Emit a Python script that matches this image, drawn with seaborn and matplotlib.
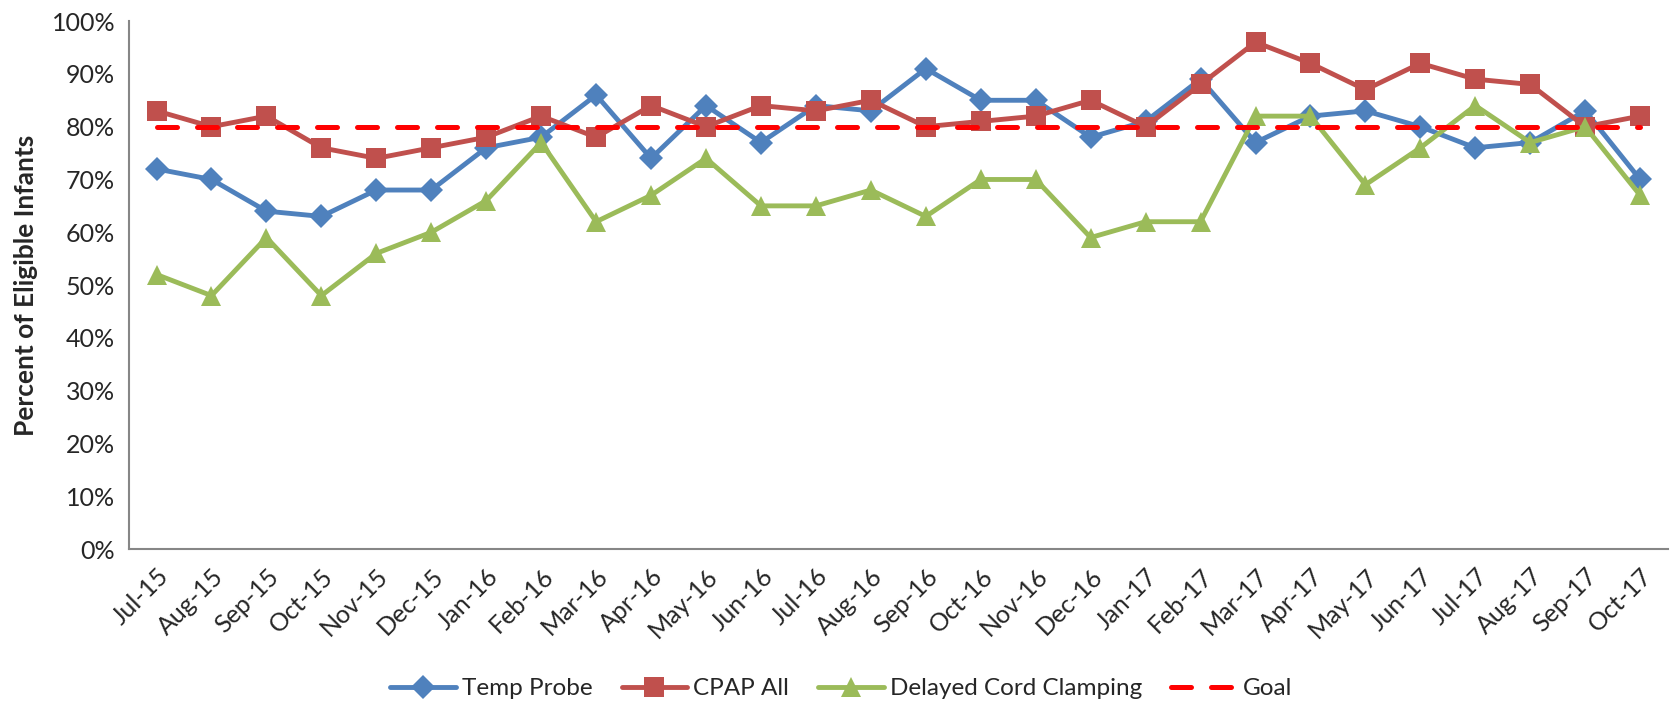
import matplotlib
matplotlib.use("Agg")
import matplotlib.pyplot as plt
import seaborn as sns
import pandas as pd
import numpy as np
from matplotlib.ticker import PercentFormatter, FixedLocator

months = ["Jul-15", "Aug-15", "Sep-15", "Oct-15", "Nov-15", "Dec-15", "Jan-16", "Feb-16",
          "Mar-16", "Apr-16", "May-16", "Jun-16", "Jul-16", "Aug-16", "Sep-16", "Oct-16",
          "Nov-16", "Dec-16", "Jan-17", "Feb-17", "Mar-17", "Apr-17", "May-17", "Jun-17",
          "Jul-17", "Aug-17", "Sep-17", "Oct-17"]
temp_probe = [72, 70, 64, 63, 68, 68, 76, 78, 86, 74, 84, 77, 84, 83, 91, 85, 85, 78, 81, 89,
              77, 82, 83, 80, 76, 77, 83, 70]
cpap_all = [83, 80, 82, 76, 74, 76, 78, 82, 78, 84, 80, 84, 83, 85, 80, 81, 82, 85, 80, 88,
            96, 92, 87, 92, 89, 88, 80, 82]
delayed_cord = [52, 48, 59, 48, 56, 60, 66, 77, 62, 67, 74, 65, 65, 68, 63, 70, 70, 59, 62, 62,
                82, 82, 69, 76, 84, 77, 80, 67]
goal = [80] * len(months)

sns.set_theme(style="white")
plt.rcParams["font.family"] = ["Lato", "DejaVu Sans"]

fig = plt.figure(figsize=(16.76, 7.03), dpi=100)
ax = fig.add_axes([0.077, 0.219, 0.918, 0.751])

idx = np.arange(len(months))
series = [
    ("Temp Probe", temp_probe, "#4F81BD", "D", 12, "-"),
    ("CPAP All", cpap_all, "#C0504D", "s", 14, "-"),
    ("Delayed Cord Clamping", delayed_cord, "#9BBB59", "^", 15, "-"),
]
for name, vals, col, mk, ms, ls in series:
    df = pd.DataFrame({"x": idx, "y": vals})
    sns.lineplot(data=df, x="x", y="y", ax=ax, color=col, linewidth=3.5,
                 marker=mk, markersize=ms, markeredgewidth=0, label=name)
dfg = pd.DataFrame({"x": idx, "y": goal})
sns.lineplot(data=dfg, x="x", y="y", ax=ax, color="#FF0000", linewidth=3.6, label="Goal")
ax.lines[-1].set_dashes([4.0, 4.0])
ax.lines[-1].set_dash_capstyle("round")

ax.set_xlim(-0.5, len(months) - 0.5)
ax.set_ylim(0, 100)
ax.yaxis.set_major_locator(FixedLocator(np.arange(0, 101, 10)))
ax.yaxis.set_major_formatter(PercentFormatter(decimals=0))
ax.set_xticks(idx)
ax.set_xticklabels(months, rotation=45, ha="right", rotation_mode="anchor", fontsize=18)
ax.set_xticks(np.arange(-0.5, len(months), 1.0), minor=True)
ax.tick_params(axis="x", which="major", length=0, pad=11)
ax.tick_params(axis="x", which="minor", length=7, width=1.2, color="#868686", direction="out")
ax.tick_params(axis="y", which="major", length=6, width=1.2, color="#868686", direction="out",
               labelsize=18, pad=4)
ax.set_xlabel("")
ax.set_ylabel("Percent of Eligible Infants", fontsize=19, fontweight="bold", labelpad=10)
for s in ["top", "right"]:
    ax.spines[s].set_visible(False)
for s in ["left", "bottom"]:
    ax.spines[s].set_color("#868686")
    ax.spines[s].set_linewidth(1.5)
ax.grid(False)

h, l = ax.get_legend_handles_labels()
ax.get_legend().remove()
fig.legend(h, l, loc="center", bbox_to_anchor=(0.502, 0.02), ncol=4, frameon=False,
           fontsize=17.5, handlelength=2.7, columnspacing=1.2, handletextpad=0.25)

fig.savefig("out.png", dpi=100, facecolor="white")
